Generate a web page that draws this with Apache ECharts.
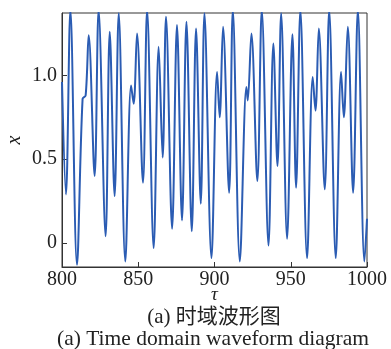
<!DOCTYPE html>
<html>
<head>
<meta charset="utf-8">
<script src="https://cdn.jsdelivr.net/npm/echarts@6/dist/echarts.min.js"></script>
<style>
  html, body { margin: 0; padding: 0; background: #fff; }
  #chart { width: 391px; height: 349px; }
</style>
</head>
<body>
<div id="chart"></div>
<script>
// 波形极值点
const tau = [
  800, 802.6, 805.5, 809.8, 813.5, 815.5, 817.5, 821.4, 824, 828.6,
  831.3, 834.5, 837.2, 841.5, 845.3, 847, 849.2, 853.1, 855.8, 860.1,
  863.4, 866, 868.2, 872.2, 875.4, 878.7, 881.6, 885.1, 887.9, 891,
  893.4, 898, 901.7, 903.4, 905.6, 909.6, 912, 916.6, 920.9, 921.8,
  924.2, 928.1, 931, 935.4, 938.6, 941.3, 943.7, 947.6, 951.1, 953.5,
  956.3, 960.7, 964.4, 966.2, 968.4, 972.3, 975.2, 979.5, 983, 984.8,
  987.4, 990.9, 994, 998.3, 1000
];
const xVals = [
  0.96, 0.29, 1.39, -0.13, 0.86, 0.88, 1.24, 0.40, 1.39, 0.04,
  1.26, 0.28, 1.37, -0.11, 0.94, 0.83, 1.25, 0.36, 1.39, -0.03,
  1.17, 0.51, 1.35, 0.085, 1.30, 0.135, 1.32, 0.07, 1.28, 0.235,
  1.37, -0.09, 1.02, 0.75, 1.29, 0.30, 1.39, -0.11, 0.93, 0.85,
  1.25, 0.37, 1.39, -0.015, 1.19, 0.46, 1.37, 0.025, 1.245, 0.33,
  1.39, -0.09, 0.99, 0.79, 1.28, 0.32, 1.39, -0.09, 1.02, 0.75,
  1.29, 0.30, 1.39, -0.11, 0.145
];
const yTicks = [0, 0.5, 1.0];

const chart = echarts.init(document.getElementById('chart'));

const serif = 'Liberation Serif';
const data = tau.map((t, i) => [t, xVals[i]]);

chart.setOption({
  animation: false,
  grid: {
    left: 62,
    right: 24,
    top: 13,
    bottom: 82,
    containLabel: false,
    outerBoundsMode: 'none',
    show: true,
    borderColor: '#333',
    borderWidth: 1
  },
  xAxis: {
    type: 'value',
    min: 800,
    max: 1000,
    interval: 50,
    name: 'τ',
    nameLocation: 'middle',
    nameGap: 18,
    nameMoveOverlap: false,
    nameTextStyle: { fontFamily: serif, fontStyle: 'italic', fontSize: 19, color: '#222' },
    axisLine: { onZero: false, lineStyle: { color: '#333', width: 1 } },
    axisTick: { inside: true, length: 5, lineStyle: { color: '#333' } },
    axisLabel: { fontFamily: serif, fontSize: 20, color: '#222', margin: 3, formatter: v => String(v) },
    splitLine: { show: false }
  },
  yAxis: {
    type: 'value',
    min: -0.143,
    max: 1.372,
    name: 'x',
    nameLocation: 'middle',
    nameRotate: 90,
    nameGap: 37,
    nameMoveOverlap: false,
    nameTextStyle: { fontFamily: serif, fontStyle: 'italic', fontSize: 20, color: '#222' },
    axisLine: { onZero: false, lineStyle: { color: '#333', width: 1 } },
    axisTick: { inside: true, length: 5, customValues: yTicks, lineStyle: { color: '#333' } },
    axisLabel: {
      fontFamily: serif,
      fontSize: 20,
      color: '#222',
      margin: 5,
      customValues: yTicks,
      formatter: v => (v === 0 ? '0' : v.toFixed(1))
    },
    splitLine: { show: false }
  },
  series: [{
    type: 'line',
    data: data,
    smooth: 0.35,
    showSymbol: false,
    clip: true,
    lineStyle: { color: '#2b5cb3', width: 2 }
  }],
  graphic: [
    {
      type: 'text',
      x: 214,
      y: 307,
      style: { text: '(a) 时域波形图', font: '21px "Liberation Serif", "Noto Sans CJK SC"', fill: '#222', align: 'center' }
    },
    {
      type: 'text',
      x: 213,
      y: 328,
      style: { text: '(a) Time domain waveform diagram', font: '21.5px "Liberation Serif"', fill: '#222', align: 'center' }
    }
  ]
});
</script>
</body>
</html>
